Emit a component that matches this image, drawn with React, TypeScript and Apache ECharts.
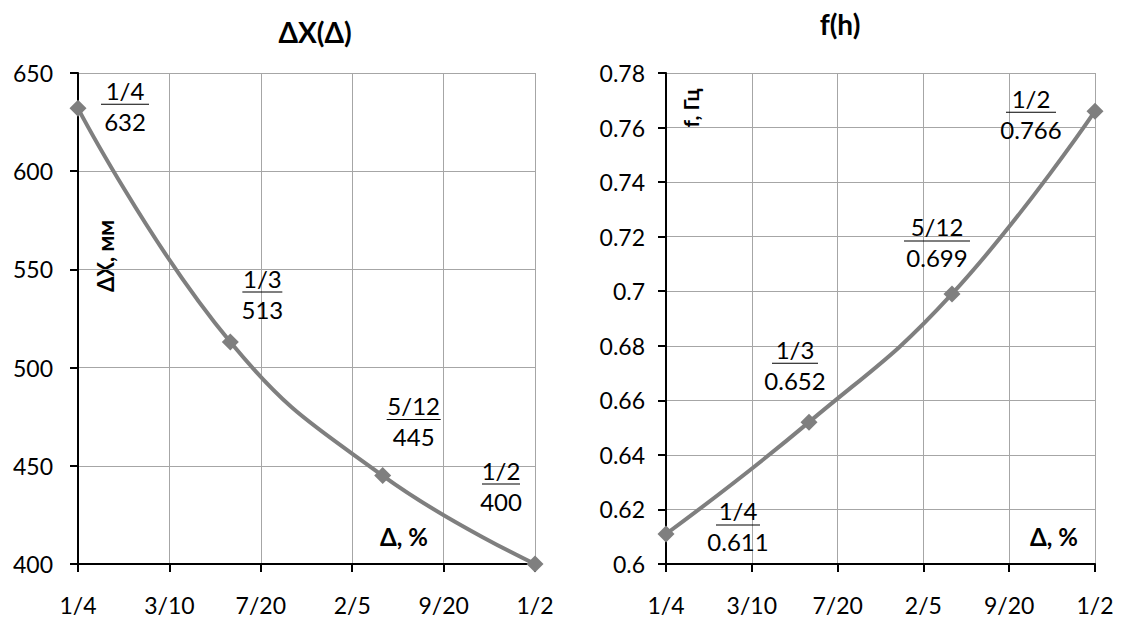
import React, { useEffect, useRef } from "react";
import * as echarts from "echarts";

const xTickLabels = ["1/4", "3/10", "7/20", "2/5", "9/20", "1/2"];
const pointX = [1 / 4, 1 / 3, 5 / 12, 1 / 2];
const pointFractions = ["1/4", "1/3", "5/12", "1/2"];
const dxValues = [632, 513, 445, 400];
const fValues = [0.611, 0.652, 0.699, 0.766];

// label layout (pixels): offset from point, underline width
const leftLabelOffsets = [[47, -1], [32, -47], [31, -53], [-34, -77]];
const leftUnderline = [48, 40, 54, 38];
const rightLabelOffsets = [[72, -6], [-14, -56], [-15, -50], [-64, 4]];
const rightUnderline = [44, 46, 66, 50];

const FONT = "Lato, 'Open Sans', sans-serif";
const GRAY = "#7f7f7f";
const FS = 23;
const LFS = 24;

function makeSeries(values: number[], idx: number, offsets: number[][], widths: number[], dec: number) {
  return {
    type: "line",
    xAxisIndex: idx,
    yAxisIndex: idx,
    smooth: 0.45,
    symbol: "diamond",
    symbolSize: 17,
    lineStyle: { color: GRAY, width: 4 },
    itemStyle: { color: GRAY },
    data: values.map((v, i) => ({
      value: [pointX[i], v],
      label: {
        show: true,
        position: "inside",
        offset: offsets[i],
        formatter: () =>
          `{f|${pointFractions[i]}}\n{u| }\n{v|${dec ? v.toFixed(dec) : String(v)}}`,
        rich: {
          f: { fontSize: LFS, fontFamily: FONT, color: "#000", align: "center", lineHeight: 24 },
          u: { fontSize: 1, lineHeight: 4, height: 1, width: widths[i], backgroundColor: "#000", align: "center" },
          v: { fontSize: LFS, fontFamily: FONT, color: "#000", align: "center", lineHeight: 30 },
        },
      },
    })),
  };
}

function xAxisCfg(idx: number) {
  return {
    type: "value",
    gridIndex: idx,
    min: 0.25,
    max: 0.5,
    interval: 0.05,
    axisLine: { show: true, onZero: false, lineStyle: { color: "#000", width: 2 } },
    axisTick: { show: true, length: 8, lineStyle: { color: "#000", width: 2 } },
    axisLabel: {
      color: "#000",
      fontSize: FS,
      fontFamily: FONT,
      margin: 29,
      formatter: (v: number) => xTickLabels[Math.round((v - 0.25) / 0.05)] ?? "",
    },
    splitLine: { show: true, lineStyle: { color: "#a6a6a6", width: 1 } },
  };
}

function yAxisCfg(idx: number, min: number, max: number, interval: number, fmt: (v: number) => string, margin: number) {
  return {
    type: "value",
    gridIndex: idx,
    min,
    max,
    interval,
    axisLine: { show: true, lineStyle: { color: "#000", width: 2 } },
    axisTick: { show: true, length: 8, lineStyle: { color: "#000", width: 2 } },
    axisLabel: { color: "#000", fontSize: FS, fontFamily: FONT, margin, formatter: fmt },
    splitLine: { show: true, lineStyle: { color: "#a6a6a6", width: 1 } },
  };
}

export default function App() {
  const ref = useRef<HTMLDivElement>(null);
  useEffect(() => {
    document.body.style.margin = "0";
    const chart = echarts.init(ref.current!, null, { renderer: "svg" });
    chart.setOption({
      animation: false,
      backgroundColor: "#fff",
      title: [
        {
          text: "ΔX(Δ)",
          left: 310,
          top: 13,
          textAlign: "center",
          textStyle: { fontSize: 28, fontWeight: "bold", fontFamily: FONT, color: "#000" },
        },
        {
          text: "f(h)",
          left: 835,
          top: 5,
          textAlign: "center",
          textStyle: { fontSize: 28, fontWeight: "bold", fontFamily: FONT, color: "#000" },
        },
      ],
      grid: [
        { left: 78, right: 587, top: 73, bottom: 57 },
        { left: 666, right: 27, top: 73, bottom: 57 },
      ],
      xAxis: [xAxisCfg(0), xAxisCfg(1)],
      yAxis: [
        yAxisCfg(0, 400, 650, 50, (v: number) => String(v), 25),
        yAxisCfg(1, 0.6, 0.78, 0.02, (v: number) => String(Number(v.toFixed(2))), 21),
      ],
      graphic: [
        {
          type: "text",
          x: 105,
          y: 256,
          rotation: Math.PI / 2,
          style: {
            text: "ΔX, мм",
            font: `bold 22px ${FONT}`,
            fill: "#000",
            align: "center",
            verticalAlign: "middle",
          },
        },
        {
          type: "text",
          x: 690,
          y: 108,
          rotation: Math.PI / 2,
          style: {
            text: "f, Гц",
            font: `bold 21px ${FONT}`,
            fill: "#000",
            align: "center",
            verticalAlign: "middle",
          },
        },
        {
          type: "text",
          x: 404,
          y: 536,
          style: { text: "Δ, %", font: `bold 24px ${FONT}`, fill: "#000", align: "center", verticalAlign: "middle" },
        },
        {
          type: "text",
          x: 1054,
          y: 536,
          style: { text: "Δ, %", font: `bold 24px ${FONT}`, fill: "#000", align: "center", verticalAlign: "middle" },
        },
      ],
      series: [
        makeSeries(dxValues, 0, leftLabelOffsets, leftUnderline, 0),
        makeSeries(fValues, 1, rightLabelOffsets, rightUnderline, 3),
      ],
    });
    return () => chart.dispose();
  }, []);
  return <div ref={ref} style={{ width: 1122, height: 621 }} />;
}
